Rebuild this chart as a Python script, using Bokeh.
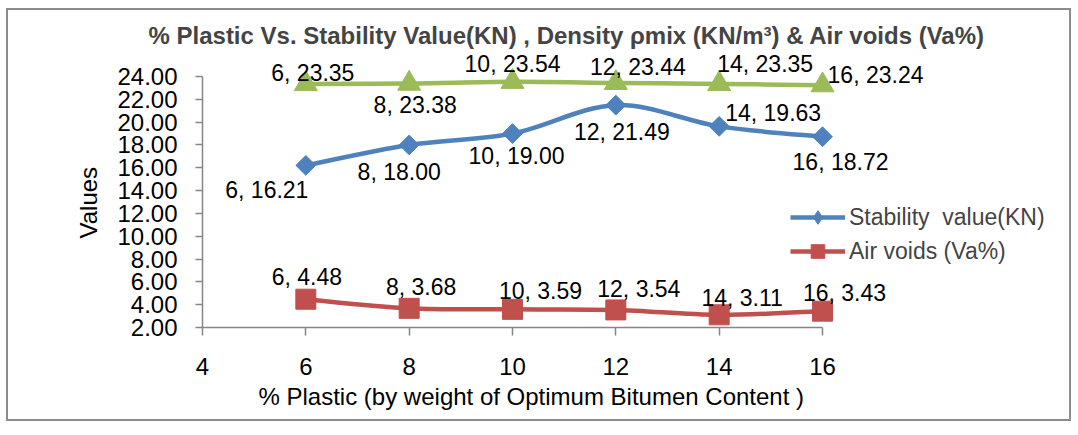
import numpy as np
from bokeh.plotting import figure
from bokeh.models import (ColumnDataSource, Legend, LegendItem, FixedTicker,
                          NumeralTickFormatter, Range1d, Title)
from bokeh.core.properties import value
from bokeh.embed import file_html
from bokeh.resources import INLINE

# ---------------- data ----------------
plastic = [6, 8, 10, 12, 14, 16]
stability = [16.21, 18.00, 19.00, 21.49, 19.63, 18.72]
density = [23.35, 23.38, 23.54, 23.44, 23.35, 23.24]
air_voids = [4.48, 3.68, 3.59, 3.54, 3.11, 3.43]
x_ticks = [4, 6, 8, 10, 12, 14, 16]
y_ticks = [2, 4, 6, 8, 10, 12, 14, 16, 18, 20, 22, 24]

title_text = "% Plastic Vs. Stability  Value(KN) , Density \u03c1mix (KN/m\u00b3) & Air voids (Va%)"
x_title = "% Plastic (by weight of Optimum Bitumen Content )"
y_title = "Values"
stab_name = "Stability  value(KN)"
air_name = "Air voids (Va%)"

# ---------------- styles (label offsets in px) ----------------
dens_off = [(7, -11), (6, 21), (0, -18), (22, -16), (46, -20), (53, -10)]
stab_off = [(-39, 25), (-10, 27), (4, 22), (6, 27), (54, -13), (18, 25)]
air_off = [(1, -22), (12, -21), (28, -18), (23, -21), (23, -17), (22, -18)]

BLUE = "#4F81BD"
RED = "#C0504D"
GREEN = "#9BBB59"
GREY = "#868686"
FONT = "Liberation Sans"

# px per unit: x 51.667 (4..16 over 620px), y 11.409 (2..24 over 251px)
p = figure(width=1061, height=409, frame_width=860, frame_height=277,
           x_range=Range1d(4, 20.645), y_range=Range1d(2, 26.279),
           output_backend="svg", toolbar_location=None,
           min_border_left=194, min_border_right=7,
           min_border_top=40, min_border_bottom=92,
           background_fill_color="white", border_fill_color="white")
p.outline_line_color = None
p.grid.visible = False
p.styles = {"border": "2px solid #8c8c8c", "margin-left": "6px", "margin-top": "8px"}

p.title.text = title_text
p.title.text_font = FONT
p.title.text_font_style = "bold"
p.title.text_font_size = "24px"
p.title.align = "left"
p.title.standoff = 4
p.title.offset = -54

for ax in (p.xaxis[0], p.yaxis[0]):
    ax.axis_line_color = GREY
    ax.axis_line_width = 1.5
    ax.major_tick_line_color = GREY
    ax.major_tick_line_width = 1.5
    ax.major_tick_in = 0
    ax.minor_tick_line_color = None
    ax.major_label_text_font = FONT
    ax.major_label_text_font_size = "24px"
    ax.major_label_text_color = "black"

p.xaxis.ticker = FixedTicker(ticks=x_ticks)
p.yaxis.ticker = FixedTicker(ticks=y_ticks)
p.xaxis.bounds = (4, 16)
p.yaxis.bounds = (2, 24)
p.yaxis.formatter = NumeralTickFormatter(format="0.00")
p.xaxis.major_tick_out = 8
p.yaxis.major_tick_out = 7
p.xaxis.major_label_standoff = 22
p.yaxis.major_label_standoff = 18

# axis titles as side titles (so they can be positioned along the axis)
p.add_layout(Title(text=x_title, align="left", offset=56, standoff=6,
                   text_font=FONT, text_font_size="24px",
                   text_font_style="normal", text_color="black"), "below")
p.add_layout(Title(text=y_title, align="left", offset=89, standoff=26,
                   text_font=FONT, text_font_size="24px",
                   text_font_style="normal", text_color="black"), "left")


def bezier_source(xs, ys, t=1/6):
    xs = np.asarray(xs, float)
    ys = np.asarray(ys, float)
    n = len(xs)
    d = dict(x0=[], y0=[], x1=[], y1=[], cx0=[], cy0=[], cx1=[], cy1=[])
    for i in range(n - 1):
        im = max(i - 1, 0)
        ip = min(i + 2, n - 1)
        d["x0"].append(xs[i]); d["y0"].append(ys[i])
        d["x1"].append(xs[i + 1]); d["y1"].append(ys[i + 1])
        d["cx0"].append(xs[i] + (xs[i + 1] - xs[im]) * t)
        d["cy0"].append(ys[i] + (ys[i + 1] - ys[im]) * t)
        d["cx1"].append(xs[i + 1] - (xs[ip] - xs[i]) * t)
        d["cy1"].append(ys[i + 1] - (ys[ip] - ys[i]) * t)
    return ColumnDataSource(d)


def series(ys, color, marker, size, angle, offs):
    bz = p.bezier(x0="x0", y0="y0", x1="x1", y1="y1", cx0="cx0", cy0="cy0",
                  cx1="cx1", cy1="cy1", source=bezier_source(plastic, ys),
                  line_color=color, line_width=4.5)
    src = ColumnDataSource(dict(
        x=plastic, y=ys,
        lab=[f"{x}, {y:.2f}" for x, y in zip(plastic, ys)],
        dx=[o[0] for o in offs], dy=[o[1] for o in offs]))
    sc = p.scatter(x="x", y="y", source=src, marker=marker, size=size,
                   angle=angle, fill_color=color, line_color=color, line_width=1)
    p.text(x="x", y="y", text="lab", source=src, x_offset="dx", y_offset="dy",
           text_align="center", text_baseline="middle",
           text_font=value(FONT), text_font_size="23px", text_color="black")
    return bz, sc


dz = series(density, GREEN, "triangle", 23, 0, dens_off)
st = series(stability, BLUE, "square", 14, np.pi / 4, stab_off)
av = series(air_voids, RED, "square", 20, 0, air_off)

# legend-only marker proxy (diamond, unrotated) for the stability entry
st_proxy = p.scatter(x=[np.nan], y=[np.nan], marker="diamond", size=20,
                     fill_color=BLUE, line_color=BLUE)

legend = Legend(items=[LegendItem(label=stab_name, renderers=[st[0], st_proxy]),
                       LegendItem(label=air_name, renderers=list(av))],
                location=(588, 59), orientation="vertical",
                glyph_width=55, glyph_height=34, label_height=34,
                label_standoff=4, spacing=0, padding=0, margin=0,
                label_text_font=FONT, label_text_font_size="23px",
                background_fill_alpha=0, border_line_color=None)
p.add_layout(legend, "center")

open("out.html", "w").write(file_html(p, INLINE))
